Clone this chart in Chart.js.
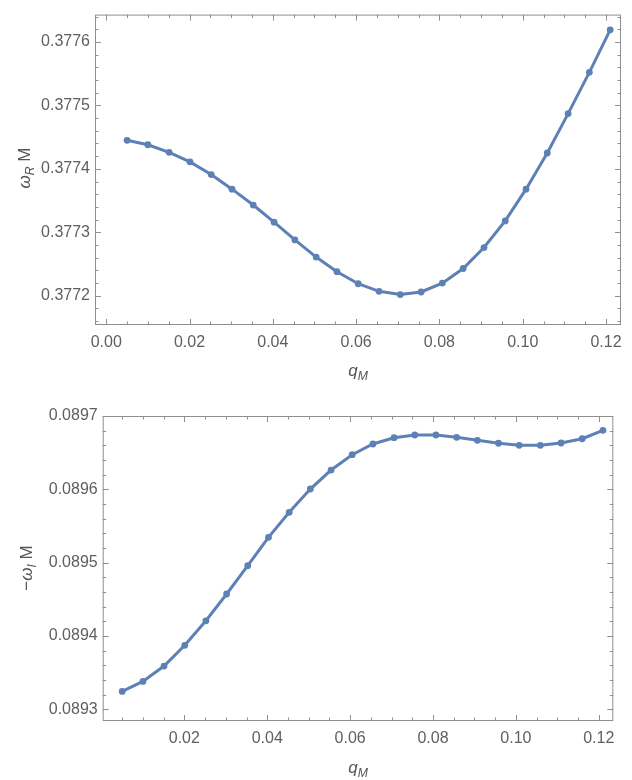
<!DOCTYPE html>
<html>
<head>
<meta charset="utf-8">
<script src="https://cdn.jsdelivr.net/npm/chart.js@4"></script>
<style>
  body { margin:0; background:#fff; width:632px; height:780px; position:relative; overflow:hidden;
         font-family:"Liberation Sans", Arial, sans-serif; }
  canvas { position:absolute; left:0; }
  .lab { position:absolute; color:#555; font-size:17px; white-space:nowrap; transform:translate(-50%,-50%); }
  .rot { transform:translate(-50%,-50%) rotate(-90deg); }
  .lab sub { font-size:0.72em; vertical-align:-0.35em; line-height:0; }
</style>
</head>
<body>
<canvas id="top" width="632" height="390" style="top:0"></canvas>
<canvas id="bot" width="632" height="390" style="top:390px"></canvas>

<div class="lab rot" style="left:25px;top:168px"><i>ω</i><sub><i>R</i></sub> M</div>
<div class="lab" style="left:358px;top:371px"><i>q</i><sub><i>M</i></sub></div>
<div class="lab rot" style="left:27px;top:568px">−<i>ω</i><sub><i>I</i></sub> M</div>
<div class="lab" style="left:358px;top:768px"><i>q</i><sub><i>M</i></sub></div>

<script>
// q_M values (same for both panels)
const qM = [0.0050, 0.0100, 0.0151, 0.0201, 0.0252, 0.0302, 0.0353, 0.0403, 0.0453, 0.0504,
            0.0554, 0.0605, 0.0655, 0.0706, 0.0756, 0.0807, 0.0857, 0.0907, 0.0958, 0.1008,
            0.1059, 0.1109, 0.1160, 0.1210];

// omega_R M
const omegaR = [0.377445, 0.377438, 0.377426, 0.377411, 0.377391, 0.377368, 0.377343, 0.377316,
                0.377288, 0.377261, 0.377238, 0.377219, 0.377207, 0.377202, 0.377206, 0.377220,
                0.377243, 0.377276, 0.377318, 0.377368, 0.377425, 0.377487, 0.377552, 0.377619];

// -omega_I M
const omegaI = [0.0893244, 0.0893380, 0.0893589, 0.0893872, 0.0894207, 0.0894572, 0.0894958, 0.0895345,
                0.0895686, 0.0896004, 0.0896263, 0.0896472, 0.0896618, 0.0896704, 0.0896741, 0.0896741,
                0.0896709, 0.0896668, 0.0896628, 0.0896600, 0.0896600, 0.0896632, 0.0896690, 0.0896805];

const xTicksTop = [0.00, 0.02, 0.04, 0.06, 0.08, 0.10, 0.12];
const xTicksBot = [0.02, 0.04, 0.06, 0.08, 0.10, 0.12];
const yTicksTop = [0.3772, 0.3773, 0.3774, 0.3775, 0.3776];
const yTicksBot = [0.0893, 0.0894, 0.0895, 0.0896, 0.0897];

const blue = '#5E81B5';
const grey = '#8f8f8f';
const labelColor = '#5f5f5f';

// frame with inward ticks on all sides, Mathematica style
const framePlugin = {
  id: 'frame',
  beforeDatasetsDraw(chart) {
    const {ctx, chartArea: a, scales: {x, y}} = chart;
    const o = chart.options.plugins.frame;
    ctx.save();
    ctx.strokeStyle = grey;
    ctx.lineWidth = 1;
    ctx.strokeRect(a.left + 0.5, a.top + 0.5, a.right - a.left - 1, a.bottom - a.top - 1);
    ctx.beginPath();
    const isMajor = (v, m) => Math.abs(v / m - Math.round(v / m)) < 1e-6;
    // x ticks
    for (let k = Math.ceil(x.min / o.xMinor - 1e-9); k * o.xMinor <= x.max + 1e-12; k++) {
      const v = k * o.xMinor;
      const px = Math.round(x.getPixelForValue(v)) + 0.5;
      const len = isMajor(v, o.xMajor) ? 6 : 3.5;
      ctx.moveTo(px, a.bottom); ctx.lineTo(px, a.bottom - len);
      ctx.moveTo(px, a.top); ctx.lineTo(px, a.top + len);
    }
    // y ticks
    for (let k = Math.ceil(y.min / o.yMinor - 1e-9); k * o.yMinor <= y.max + 1e-12; k++) {
      const v = k * o.yMinor;
      const py = Math.round(y.getPixelForValue(v)) + 0.5;
      const len = isMajor(v, o.yMajor) ? 6 : 3.5;
      ctx.moveTo(a.left, py); ctx.lineTo(a.left + len, py);
      ctx.moveTo(a.right, py); ctx.lineTo(a.right - len, py);
    }
    ctx.stroke();
    ctx.restore();
  }
};

function makeChart(id, ys, cfg) {
  return new Chart(document.getElementById(id), {
    type: 'line',
    data: {
      datasets: [{
        data: qM.map((q, i) => ({x: q, y: ys[i]})),
        borderColor: blue,
        backgroundColor: blue,
        borderWidth: 3,
        pointRadius: 3.4,
        pointHoverRadius: 3.4,
        pointBorderWidth: 0,
        tension: 0
      }]
    },
    options: {
      responsive: false,
      animation: false,
      layout: {padding: cfg.padding},
      plugins: {
        legend: {display: false},
        tooltip: {enabled: false},
        frame: {xMinor: 0.005, xMajor: 0.02, yMinor: 0.00002, yMajor: 0.0001}
      },
      scales: {
        x: {
          type: 'linear', min: cfg.xMin, max: cfg.xMax,
          afterBuildTicks: s => { s.ticks = cfg.xTicks.map(v => ({value: v})); },
          afterFit: s => { s.height = cfg.xHeight; },
          grid: {display: false, drawTicks: false},
          border: {display: false},
          ticks: {callback: v => v.toFixed(2), color: labelColor, padding: 8, maxRotation: 0, autoSkip: false,
                  font: {family: 'Liberation Sans', size: 16}}
        },
        y: {
          type: 'linear', min: cfg.yMin, max: cfg.yMax,
          afterBuildTicks: s => { s.ticks = cfg.yTicks.map(v => ({value: v})); },
          afterFit: s => { s.width = cfg.yWidth; },
          grid: {display: false, drawTicks: false},
          border: {display: false},
          ticks: {callback: v => v.toFixed(4), color: labelColor, padding: 5, autoSkip: false,
                  font: {family: 'Liberation Sans', size: 16}}
        }
      }
    },
    plugins: [framePlugin]
  });
}

makeChart('top', omegaR, {
  padding: {top: 11, right: 11, left: 0, bottom: 0},
  xMin: -0.0027, xMax: 0.1236, yMin: 0.377154, yMax: 0.377643,
  xTicks: xTicksTop, yTicks: yTicksTop, xHeight: 65, yWidth: 95
});

makeChart('bot', omegaI, {
  padding: {top: 26, right: 18.7, left: 0, bottom: 0},
  xMin: 0.0003, xMax: 0.1235, yMin: 0.089284, yMax: 0.0897,
  xTicks: xTicksBot, yTicks: yTicksBot, xHeight: 59, yWidth: 102.7
});
</script>
</body>
</html>
